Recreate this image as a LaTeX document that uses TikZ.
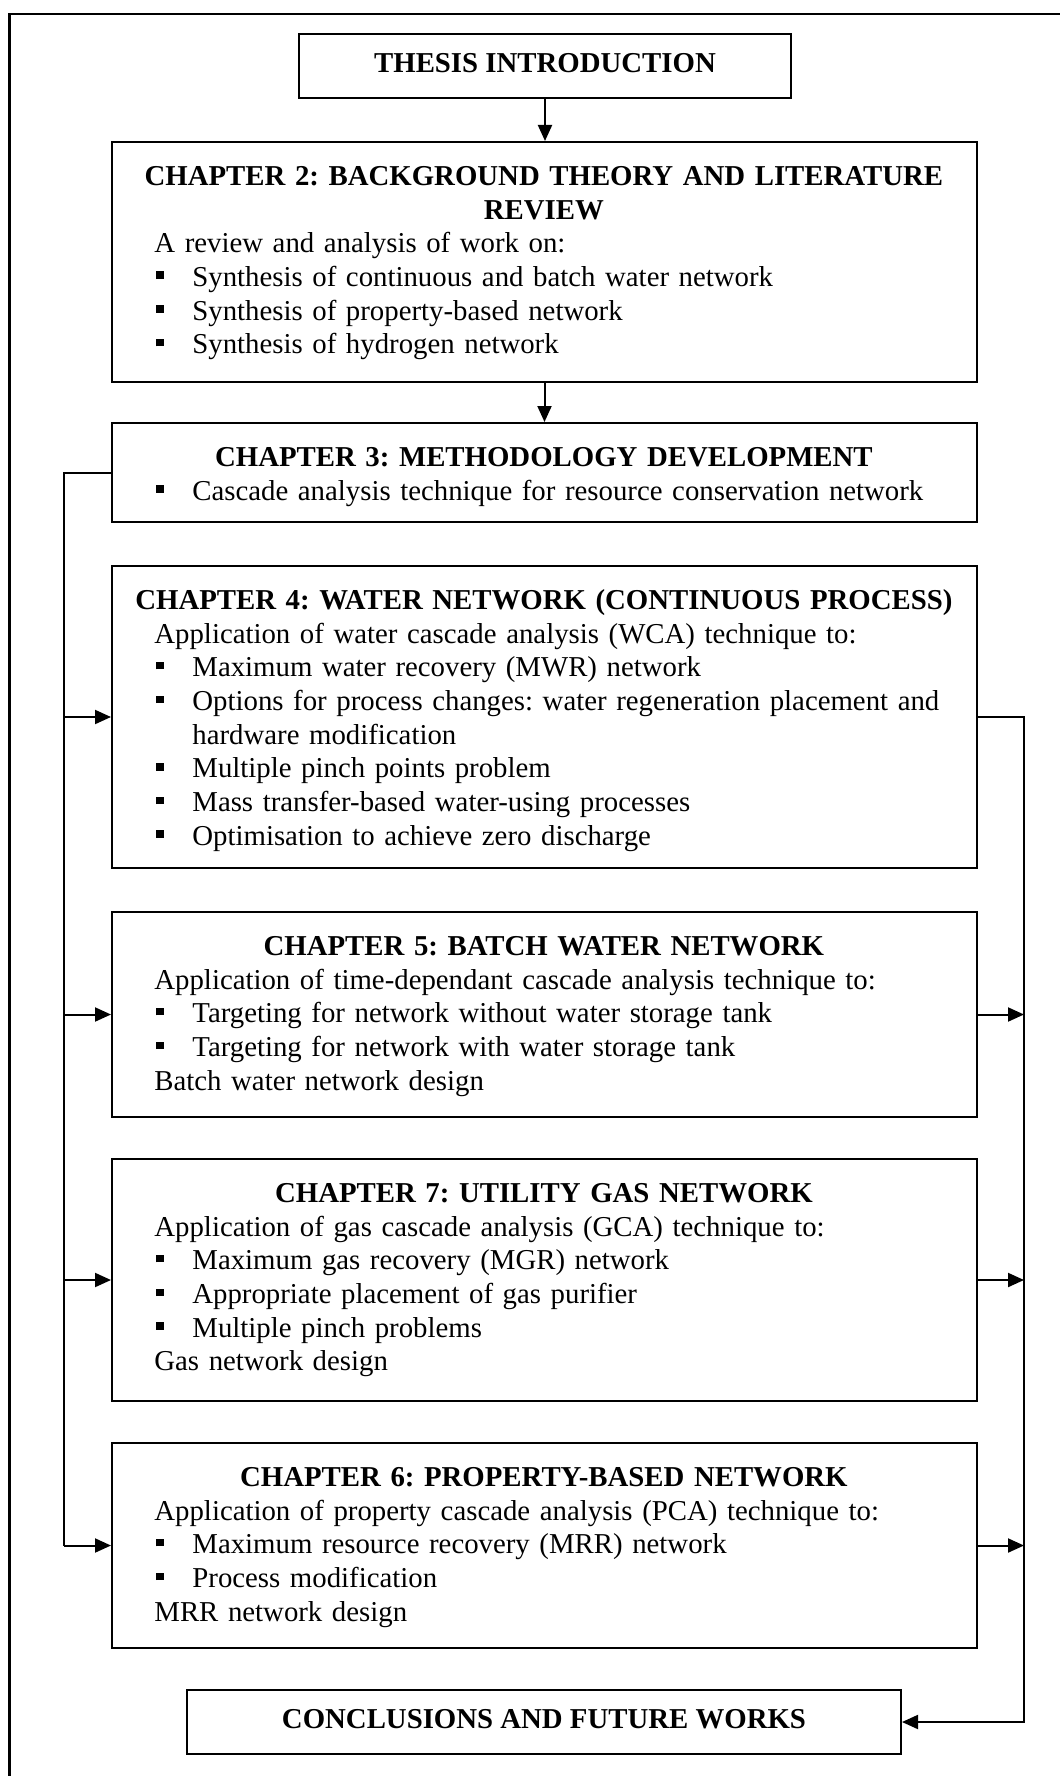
\documentclass[tikz,border=0pt]{standalone}
\usepackage{fontspec}
\setmainfont{Liberation Serif}
\usetikzlibrary{arrows.meta,calc}
\frenchspacing

% widths of the text block inside each chapter box
\newlength\bodyw
\setlength\bodyw{430pt}
\newlength\headw
\setlength\headw{389.5pt}

\newcommand\firststrut{\rule{0pt}{12pt}}
\newcommand\chaptitle[1]{\makebox[\headw][c]{\bfseries #1}}
\newcommand\bulitem[1]{\mbox{\makebox[19pt][l]{\hspace{1pt}\rule[3.7pt]{3.8pt}{3.8pt}}#1}}
\newcommand\bulcont[1]{\mbox{\hspace*{19pt}#1}}

\begin{document}
\begin{tikzpicture}[x=0.5pt, y=-0.5pt,
  box/.style={draw, line width=1pt, inner sep=0pt, minimum width=432.5pt},
  body/.style={anchor=north west, inner sep=0pt, text width=\bodyw, align=left,
               font=\fontsize{14.4}{16.85}\selectfont},
  headbox/.style={box, minimum height=32pt, text depth=3pt,
               font=\fontsize{14.4}{16.85}\selectfont\bfseries},
  link/.style={line width=1pt},
  arr/.style={line width=1pt, -{Triangle[length=8pt,width=7pt]}},
]
\useasboundingbox (0,0) rectangle (1060,1776);

% page frame
\draw[line width=1.1pt] (9.5,1776) -- (9.5,14) -- (1060,14);

% boxes
\node[headbox, minimum width=246pt] (intro) at (545,66) {THESIS INTRODUCTION};
\node[box, minimum height=120pt]   (ch2) at (544.5,262) {};
\node[box, minimum height=49.5pt]  (ch3) at (544.5,472.5) {};
\node[box, minimum height=151pt]   (ch4) at (544.5,717) {};
\node[box, minimum height=102.5pt] (ch5) at (544.5,1014.5) {};
\node[box, minimum height=121pt]   (ch7) at (544.5,1280) {};
\node[box, minimum height=102.5pt] (ch6) at (544.5,1545.5) {};
\node[headbox, minimum width=357pt] (concl) at (544,1722) {CONCLUSIONS AND FUTURE WORKS};

% box contents
\node[body] (ch2t) at ($(ch2.north west)+(43,20)$) {%
\firststrut\chaptitle{CHAPTER 2: BACKGROUND THEORY AND LITERATURE}\\
\chaptitle{REVIEW}\\
A review and analysis of work on:\\
\bulitem{Synthesis of continuous and batch water network}\\
\bulitem{Synthesis of property-based network}\\
\bulitem{Synthesis of hydrogen network}};

\node[body] (ch3t) at ($(ch3.north west)+(43,20)$) {%
\firststrut\chaptitle{CHAPTER 3: METHODOLOGY DEVELOPMENT}\\
\bulitem{Cascade analysis technique for resource conservation network}};

\node[body] (ch4t) at ($(ch4.north west)+(43,20)$) {%
\firststrut\chaptitle{CHAPTER 4: WATER NETWORK (CONTINUOUS PROCESS)}\\
Application of water cascade analysis (WCA) technique to:\\
\bulitem{Maximum water recovery (MWR) network}\\
\bulitem{Options for process changes: water regeneration placement and}\\
\bulcont{hardware modification}\\
\bulitem{Multiple pinch points problem}\\
\bulitem{Mass transfer-based water-using processes}\\
\bulitem{Optimisation to achieve zero discharge}};

\node[body] (ch5t) at ($(ch5.north west)+(43,20)$) {%
\firststrut\chaptitle{CHAPTER 5: BATCH WATER NETWORK}\\
Application of time-dependant cascade analysis technique to:\\
\bulitem{Targeting for network without water storage tank}\\
\bulitem{Targeting for network with water storage tank}\\
Batch water network design};

\node[body] (ch7t) at ($(ch7.north west)+(43,20)$) {%
\firststrut\chaptitle{CHAPTER 7: UTILITY GAS NETWORK}\\
Application of gas cascade analysis (GCA) technique to:\\
\bulitem{Maximum gas recovery (MGR) network}\\
\bulitem{Appropriate placement of gas purifier}\\
\bulitem{Multiple pinch problems}\\
Gas network design};

\node[body] (ch6t) at ($(ch6.north west)+(43,20)$) {%
\firststrut\chaptitle{CHAPTER 6: PROPERTY-BASED NETWORK}\\
Application of property cascade analysis (PCA) technique to:\\
\bulitem{Maximum resource recovery (MRR) network}\\
\bulitem{Process modification}\\
MRR network design};

% main flow
\draw[arr] (intro.south) -- (intro.south |- ch2.north);
\draw[arr] (ch2.south) -- (ch2.south |- ch3.north);

% distribution rail on the left
\coordinate (L) at (64,0);
\coordinate (R) at (1024,0);
\draw[link] (ch3.west) -- (ch3.west -| L) -- (ch6.west -| L);
\foreach \n in {ch4,ch5,ch7,ch6}
  \draw[arr] (\n.west -| L) -- (\n.west);

% collecting rail on the right
\draw[arr] (ch4.east) -- (ch4.east -| R) -- (concl.east -| R) -- (concl.east);
\foreach \n in {ch5,ch7,ch6}
  \draw[arr] (\n.east) -- (\n.east -| R);
\end{tikzpicture}
\end{document}
